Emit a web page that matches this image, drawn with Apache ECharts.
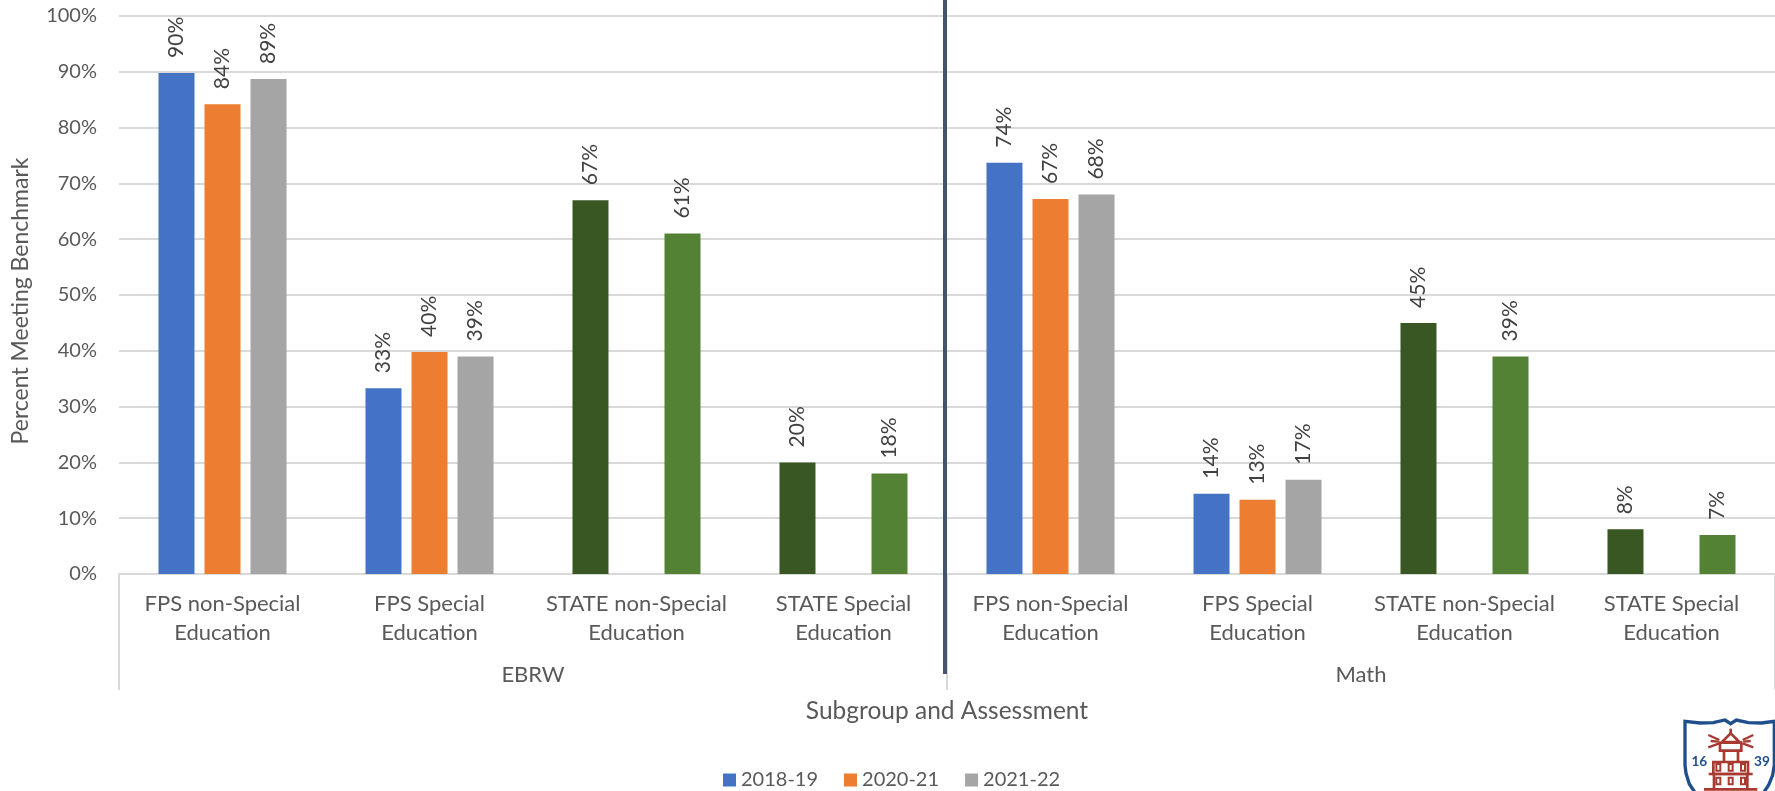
<!DOCTYPE html>
<html>
<head>
<meta charset="utf-8">
<style>html,body{margin:0;padding:0;background:#fff}#c{width:1775px;height:791px}</style>
<script src="https://cdn.jsdelivr.net/npm/echarts@6/dist/echarts.min.js"></script>
</head>
<body>
<div id="c"></div>
<script>
const categories = ['FPS non-Special\nEducation','FPS Special\nEducation','STATE non-Special\nEducation','STATE Special\nEducation','FPS non-Special\nEducation','FPS Special\nEducation','STATE non-Special\nEducation','STATE Special\nEducation'];
const assessments = ['EBRW','Math'];
const seriesNames = ['2018-19','2020-21','2021-22'];
const values1819 = [89.8,33.3,67,20,73.7,14.4,45,8];
const values2021 = [84.2,39.8,null,null,67.2,13.3,null,null];
const values2122 = [88.7,39,61,18,68,16.9,39,7];
const yTicks = [0,10,20,30,40,50,60,70,80,90,100];

const BLUE='#4472c4',ORANGE='#ed7d31',GRAY='#a5a5a5',DARKGREEN='#385723',GREEN='#548235';
const colors1819 = [BLUE,BLUE,DARKGREEN,DARKGREEN,BLUE,BLUE,DARKGREEN,DARKGREEN];
const colors2122 = [GRAY,GRAY,GREEN,GREEN,GRAY,GRAY,GREEN,GREEN];
const TXT='#595959',LINE='#d9d9d9',FONT='Lato';

function bar(name,vals,base,pointColors){
  return {
    name,type:'bar',xAxisIndex:0,yAxisIndex:0,barWidth:36,barGap:'27.8%',
    itemStyle:{color:base},
    data:vals.map((v,i)=>({value:v,itemStyle:{color:pointColors?pointColors[i]:base}})),
    label:{show:true,position:'top',distance:15,rotate:90,align:'left',verticalAlign:'middle',
      fontFamily:FONT,fontSize:21,color:'#404040',
      formatter:p=>p.value==null?'':Math.round(p.value)+'%'}
  };
}
const navy='#1f4e8c',red='#a83a32';
const rays=[[325,135,358,150],[325,172,358,160],[460,135,428,150],[460,172,428,160],[332,153,356,155],[452,153,430,155]];
const windows=[[349,222],[386,222],[423,222],[349,263],[386,263],[423,263]];
const pl=(points,stroke,lineWidth)=>({type:'polyline',shape:{points},style:{fill:'none',stroke,lineWidth}});
const rc=(x,y,width,height,lineWidth)=>({type:'rect',shape:{x,y,width,height},style:{fill:'none',stroke:red,lineWidth}});
const logo={type:'group',x:1600,y:690,scaleX:1/3,scaleY:1/3,silent:true,children:[
  pl([[288,312],[268,282],[258,250],[255,225],[255,94],[300,99],[340,98],[375,90],[392,101],[409,90],[445,98],[485,99],[523,94],[523,225],[518,255],[506,285],[488,312]],navy,10),
  {type:'text',style:{x:298,y:216,text:'16',fill:navy,font:'bold 41px '+FONT,align:'center',verticalAlign:'middle'}},
  {type:'text',style:{x:486,y:216,text:'39',fill:navy,font:'bold 41px '+FONT,align:'center',verticalAlign:'middle'}},
  pl([[392,116],[392,130]],red,8),
  pl([[366,156],[392,130],[418,156],[366,156]],red,8),
  rc(360,158,64,24,8),
  pl([[372,182],[372,216]],red,8),
  pl([[414,182],[414,216]],red,8),
  rc(340,216,104,36,8),
  pl([[326,252],[458,252]],red,8),
  pl([[342,252],[342,298]],red,8),
  pl([[442,252],[442,298]],red,8),
  pl([[312,298],[472,298]],red,8),
  ...rays.map(r=>pl([[r[0],r[1]],[r[2],r[3]]],red,7)),
  ...windows.map(w=>rc(w[0],w[1],12,20,6))
]};

const chart=echarts.init(document.getElementById('c'),null,{renderer:'canvas'});
chart.setOption({
  animation:false,backgroundColor:'#fff',
  textStyle:{fontFamily:FONT},
  grid:{left:119,right:0,top:16,height:558,containLabel:false},
  legend:{left:723,top:770,padding:0,icon:'rect',itemWidth:13,itemHeight:13,itemGap:26,data:seriesNames,
    textStyle:{fontFamily:FONT,fontSize:20,color:TXT}},
  xAxis:[
    {type:'category',data:categories,position:'bottom',
      axisLine:{lineStyle:{color:LINE,width:2}},axisTick:{show:false},
      axisLabel:{interval:0,margin:15,fontFamily:FONT,fontSize:22,lineHeight:29,color:TXT}},
    {type:'category',data:assessments,position:'bottom',
      axisLine:{show:false},
      axisTick:{show:true,length:116,lineStyle:{color:LINE,width:2}},
      axisLabel:{interval:0,margin:90,fontFamily:FONT,fontSize:22,color:TXT},
      name:'Subgroup and Assessment',nameLocation:'middle',nameGap:125,
      nameTextStyle:{fontFamily:FONT,fontSize:24.5,color:TXT}}
  ],
  yAxis:{type:'value',min:0,max:100,interval:10,
    axisLine:{show:false},axisTick:{show:false},
    splitLine:{lineStyle:{color:LINE,width:2}},
    axisLabel:{margin:22,fontFamily:FONT,fontSize:20,color:TXT,
      formatter:v=>yTicks.includes(v)?v+'%':''},
    name:'Percent Meeting Benchmark',nameLocation:'middle',nameGap:87,
    nameTextStyle:{fontFamily:FONT,fontSize:23,color:TXT,padding:[0,12,0,0]}},
  series:[bar(seriesNames[0],values1819,BLUE,colors1819),bar(seriesNames[1],values2021,ORANGE),bar(seriesNames[2],values2122,GRAY,colors2122)],
  graphic:[
    {type:'line',silent:true,z:10,shape:{x1:945,y1:0,x2:945,y2:674},style:{stroke:'#44546a',lineWidth:4}},
    logo
  ]
});
</script>
</body>
</html>
